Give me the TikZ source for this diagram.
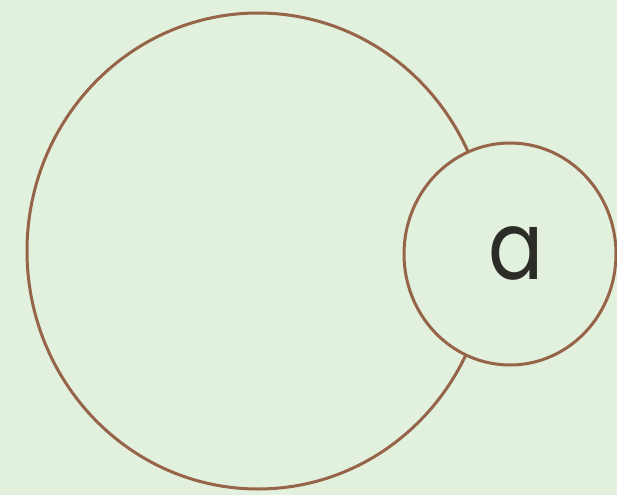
\documentclass[tikz,border=0pt]{standalone}
\usepackage{fontspec}
\newfontfamily\schoolfont{Poppins}
\usetikzlibrary{shapes.geometric}
\definecolor{palegreen}{RGB}{226,240,222}
\definecolor{ringbrown}{RGB}{150,100,72}
\definecolor{inkgray}{RGB}{45,45,40}

\begin{document}
\begin{tikzpicture}[x=1pt, y=-1pt]
  % Background
  \fill[palegreen] (0,0) rectangle (617,495);
  \useasboundingbox (0,0) rectangle (617,495);

  % Large set
  \draw[ringbrown, line width=3pt] (258,251) ellipse [x radius=231, y radius=238];

  % Small set with its element
  \node[ellipse, draw=ringbrown, line width=3pt, fill=palegreen,
        minimum width=212pt, minimum height=222pt, inner sep=0pt] (small) at (510,254) {};
  \node[inkgray, xscale=0.86, font=\schoolfont\fontsize{95}{95}\selectfont] (elem) at (516,253) {a};
\end{tikzpicture}
\end{document}
